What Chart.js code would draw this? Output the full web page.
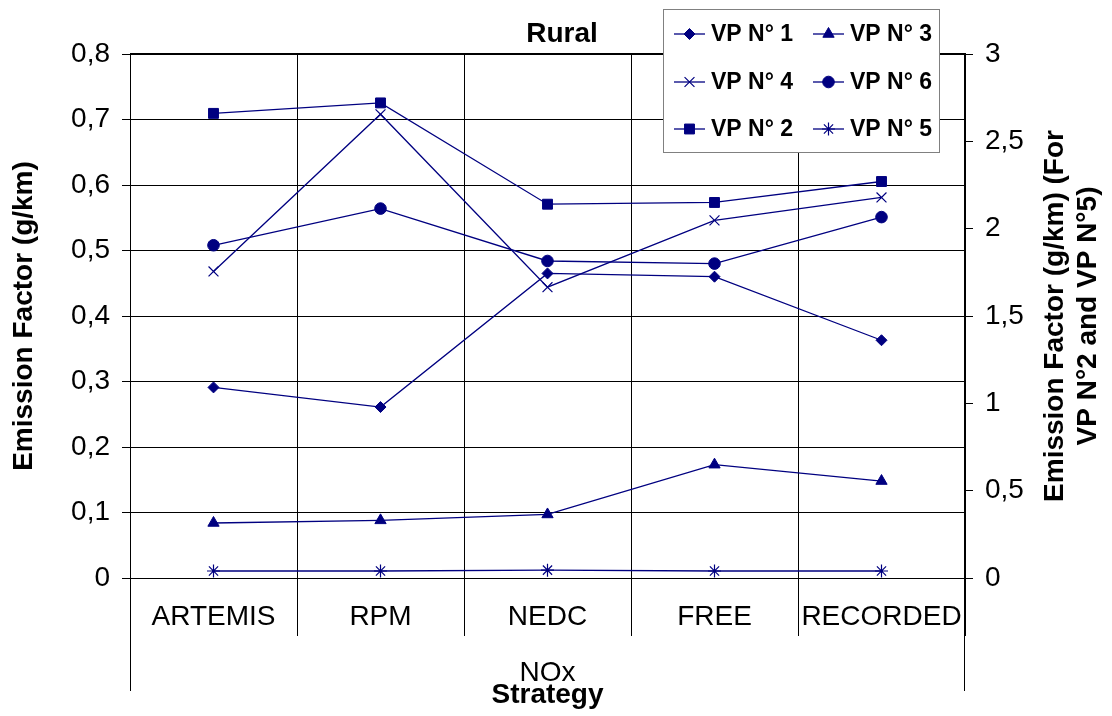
<!DOCTYPE html>
<html>
<head>
<meta charset="utf-8">
<script src="https://cdn.jsdelivr.net/npm/chart.js@4/dist/chart.umd.min.js"></script>
<style>
  html, body { margin: 0; padding: 0; background: #fff; }
  #wrap { width: 1112px; height: 716px; }
</style>
</head>
<body>
<div id="wrap"><canvas id="chart" width="1112" height="716"></canvas></div>
<script>
var categories = ['ARTEMIS', 'RPM', 'NEDC', 'FREE', 'RECORDED'];

// left axis (g/km)
var vp1 = [0.291, 0.261, 0.465, 0.460, 0.363];
var vp3 = [0.084, 0.088, 0.097, 0.173, 0.148];
var vp4 = [0.468, 0.708, 0.444, 0.546, 0.581];
var vp6 = [0.508, 0.564, 0.484, 0.480, 0.551];
// right axis (g/km)
var vp2 = [2.66, 2.72, 2.14, 2.15, 2.27];
var vp5 = [0.04, 0.04, 0.045, 0.04, 0.04];

var navy = '#000080';
var font = "'Liberation Sans', Arial, sans-serif";

function series(label, data, style, radius, axis) {
    var open = (style === 'crossRot' || style === 'star');
    return {
        label: label,
        data: data,
        yAxisID: axis,
        borderColor: navy,
        backgroundColor: navy,
        borderWidth: 1.3,
        pointStyle: style,
        pointRadius: radius,
        pointBorderWidth: open ? 1.2 : 1,
        pointBackgroundColor: navy,
        pointBorderColor: navy,
        tension: 0
    };
}

function comma(v) {
    var r = Math.round(v * 10) / 10;
    return String(r).replace('.', ',');
}

var extras = {
    id: 'extras',
    afterDraw: function (chart) {
        var ctx = chart.ctx;
        var a = chart.chartArea;
        ctx.save();

        // thicker top frame
        ctx.strokeStyle = '#000';
        ctx.lineWidth = 2;
        ctx.beginPath();
        ctx.moveTo(a.left, a.top);
        ctx.lineTo(a.right, a.top);
        ctx.stroke();

        // outer lines of the category box
        ctx.lineWidth = 1;
        ctx.beginPath();
        ctx.moveTo(a.left + 0.5, a.bottom);
        ctx.lineTo(a.left + 0.5, 691);
        ctx.moveTo(a.right - 0.5, a.bottom);
        ctx.lineTo(a.right - 0.5, 691);
        ctx.stroke();

        ctx.fillStyle = '#000';
        ctx.textAlign = 'center';
        ctx.textBaseline = 'middle';

        // group label
        ctx.font = '28px ' + font;
        ctx.fillText('NOx', (a.left + a.right) / 2, 673);

        // chart title
        ctx.font = 'bold 28px ' + font;
        ctx.fillText('Rural', 562, 34);

        // right axis title, reads bottom to top
        ctx.save();
        ctx.translate(1055, (a.top + a.bottom) / 2);
        ctx.rotate(-Math.PI / 2);
        ctx.fillText('Emission Factor (g/km) (For', 0, 0);
        ctx.fillText('VP N°2 and VP N°5)', 0, 33);
        ctx.restore();

        // legend box
        ctx.fillStyle = '#fff';
        ctx.fillRect(663, 9, 277, 144);
        ctx.strokeStyle = '#808080';
        ctx.lineWidth = 1;
        ctx.strokeRect(663.5, 9.5, 276, 143);

        var rows = [34, 82, 129];
        var cols = [674, 813];
        ctx.font = 'bold 23px ' + font;
        ctx.textAlign = 'left';
        chart.data.datasets.forEach(function (ds, i) {
            var x = cols[i % 2];
            var y = rows[Math.floor(i / 2)];
            ctx.strokeStyle = navy;
            ctx.lineWidth = 1.3;
            ctx.beginPath();
            ctx.moveTo(x, y);
            ctx.lineTo(x + 31, y);
            ctx.stroke();
            ctx.fillStyle = navy;
            ctx.lineWidth = ds.pointBorderWidth;
            Chart.helpers.drawPoint(ctx, {
                pointStyle: ds.pointStyle,
                radius: ds.pointRadius,
                rotation: 0,
                borderWidth: ds.pointBorderWidth
            }, x + 15.5, y);
            ctx.fillStyle = '#000';
            ctx.fillText(ds.label, x + 37, y + 1);
        });

        ctx.restore();
    }
};

new Chart(document.getElementById('chart'), {
    type: 'line',
    data: {
        labels: categories,
        datasets: [
            series('VP N° 1', vp1, 'rectRot', 5.5, 'y'),
            series('VP N° 3', vp3, 'triangle', 6.5, 'y'),
            series('VP N° 4', vp4, 'crossRot', 7, 'y'),
            series('VP N° 6', vp6, 'circle', 5.8, 'y'),
            series('VP N° 2', vp2, 'rect', 7, 'y1'),
            series('VP N° 5', vp5, 'star', 6.5, 'y1')
        ]
    },
    options: {
        responsive: false,
        animation: false,
        events: [],
        layout: { padding: { top: 54, left: 0, right: 0, bottom: 0 } },
        plugins: {
            legend: { display: false },
            title: { display: false },
            tooltip: { enabled: false }
        },
        scales: {
            x: {
                offset: true,
                grid: {
                    offset: true,
                    color: '#000',
                    lineWidth: 1,
                    drawTicks: true,
                    tickLength: 58
                },
                border: { color: '#000', width: 1 },
                ticks: {
                    color: '#000',
                    font: { family: font, size: 28 },
                    padding: -36,
                    autoSkip: false,
                    maxRotation: 0,
                    minRotation: 0
                },
                title: {
                    display: true,
                    text: 'Strategy',
                    color: '#000',
                    font: { family: font, size: 28, weight: 'bold' },
                    padding: { top: 0, bottom: 4 }
                },
                afterFit: function (s) { s.height = 138; }
            },
            y: {
                position: 'left',
                min: 0,
                max: 0.8,
                ticks: {
                    stepSize: 0.1,
                    color: '#000',
                    font: { family: font, size: 28 },
                    padding: 12,
                    callback: function (v) { return comma(v); }
                },
                grid: { color: '#000', lineWidth: 1, tickLength: 8 },
                border: { color: '#000', width: 1 },
                title: {
                    display: true,
                    text: 'Emission Factor (g/km)',
                    color: '#000',
                    font: { family: font, size: 28, weight: 'bold' },
                    padding: { top: 7, bottom: 0 }
                },
                afterFit: function (s) { s.width = 130; }
            },
            y1: {
                position: 'right',
                min: 0,
                max: 3,
                ticks: {
                    stepSize: 0.5,
                    color: '#000',
                    font: { family: font, size: 28 },
                    padding: 12,
                    callback: function (v) { return comma(v); }
                },
                grid: { drawOnChartArea: false, color: '#000', lineWidth: 1, tickLength: 8 },
                border: { color: '#000', width: 2 },
                afterFit: function (s) { s.width = 147; }
            }
        }
    },
    plugins: [extras]
});
</script>
</body>
</html>
